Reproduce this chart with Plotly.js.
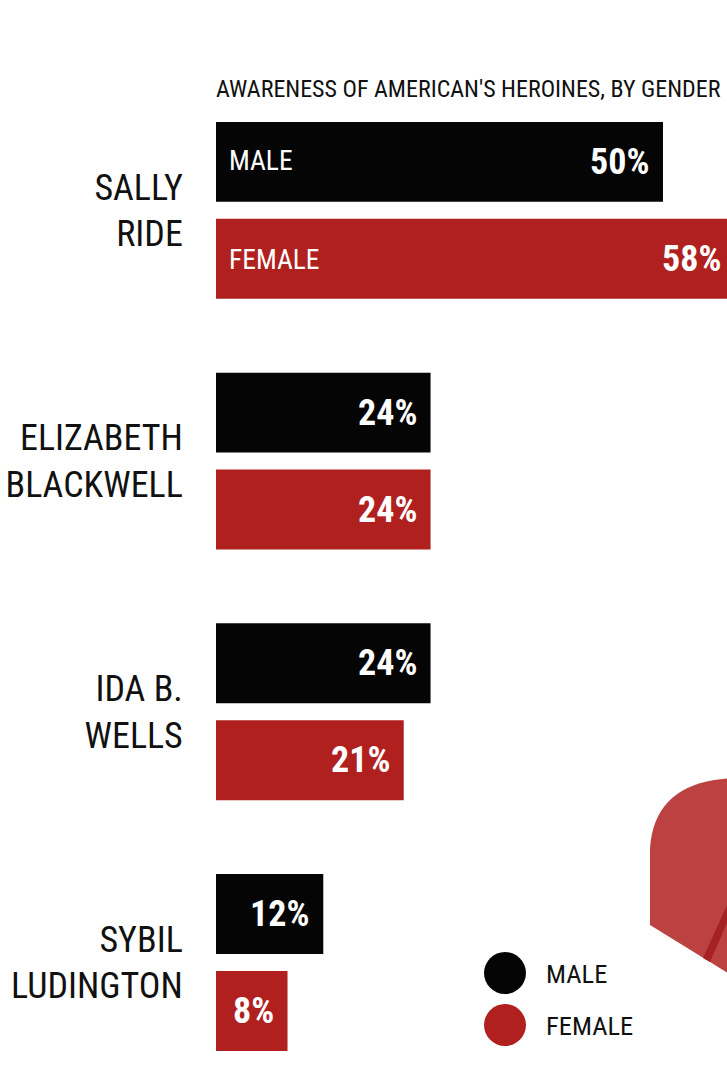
<!DOCTYPE html>
<html>
<head>
<meta charset="utf-8">
<script src="https://cdn.plot.ly/plotly-3.0.1.min.js"></script>
<style>
  html, body { margin: 0; padding: 0; background: #ffffff; overflow: hidden; }
  #chart { width: 760px; height: 1066px; }
</style>
</head>
<body>
<div id="chart"></div>
<script>
// ---- data ----
const categories = ['SALLY<br>RIDE', 'ELIZABETH<br>BLACKWELL', 'IDA B.<br>WELLS', 'SYBIL<br>LUDINGTON'];
const maleValues = [50, 24, 24, 12];
const femaleValues = [58, 24, 21, 8];
const seriesNames = ['MALE', 'FEMALE'];
const titleText = "AWARENESS OF AMERICAN'S HEROINES, BY GENDER";

// ---- styling ----
const FONT = '"Roboto Condensed", "Liberation Sans Narrow", "DejaVu Sans Condensed", sans-serif';
const BLACK = '#050505';
const RED = '#b0201f';
const W = 760, H = 1066;
const M = { l: 216, r: 0, t: 85, b: 0 };
const plotW = W - M.l - M.r, plotH = H - M.t - M.b;
const px = x => (x - M.l) / plotW;          // pixel -> paper x
const py = y => 1 - (y - M.t) / plotH;      // pixel -> paper y
const BAR_OFFSET = 48.5;                    // half of a bar slot, in pixels

const traces = [
  { type: 'bar', orientation: 'h', name: seriesNames[0], y: categories, x: maleValues,
    marker: { color: BLACK }, hoverinfo: 'skip' },
  { type: 'bar', orientation: 'h', name: seriesNames[1], y: categories, x: femaleValues,
    marker: { color: RED }, hoverinfo: 'skip' }
];

const valueFont = { family: FONT, size: 36, color: '#ffffff', weight: 'bold' };
const valueLabels = [];
[maleValues, femaleValues].forEach((vals, si) => {
  vals.forEach((v, i) => {
    valueLabels.push({
      text: v + '%', x: v, xref: 'x', y: categories[i], yref: 'y',
      xanchor: 'right', yanchor: 'middle', xshift: -12,
      yshift: si === 0 ? BAR_OFFSET : -BAR_OFFSET,
      showarrow: false, font: valueFont
    });
  });
});

const legendItems = [
  { name: seriesNames[0], color: BLACK, cy: 973 },
  { name: seriesNames[1], color: RED, cy: 1025 }
];

const shapes = [
  // decorative red illustration fragment at lower right
  {
    type: 'path', xref: 'paper', yref: 'paper', layer: 'below',
    path: `M ${px(760)} ${py(775)} L ${px(714)} ${py(780)} Q ${px(654)} ${py(790)} ${px(650)} ${py(848)} L ${px(650)} ${py(925)} L ${px(760)} ${py(993)} Z`,
    fillcolor: '#bc4242', line: { width: 0 }
  },
  {
    type: 'path', xref: 'paper', yref: 'paper', layer: 'below',
    path: `M ${px(703)} ${py(958)} L ${px(727)} ${py(905)} L ${px(734)} ${py(907)} L ${px(710)} ${py(962)} Z`,
    fillcolor: '#a62222', line: { width: 0 }
  }
].concat(legendItems.map(it => ({
  type: 'circle', xref: 'paper', yref: 'paper',
  x0: px(484), x1: px(526), y0: py(it.cy + 21), y1: py(it.cy - 21),
  fillcolor: it.color, line: { width: 0 }
})));

const annotations = [
  { text: seriesNames[0], x: 0, xref: 'x', y: categories[0], yref: 'y', xanchor: 'left', xshift: 11, yshift: BAR_OFFSET + 1,
    showarrow: false, font: { family: FONT, size: 27.5, color: '#ffffff' } },
  { text: seriesNames[1], x: 0, xref: 'x', y: categories[0], yref: 'y', xanchor: 'left', xshift: 11, yshift: -BAR_OFFSET - 1,
    showarrow: false, font: { family: FONT, size: 27.5, color: '#ffffff' } }
].concat(valueLabels).concat(legendItems.map(it => ({
  text: it.name, xref: 'paper', yref: 'paper', x: px(544), y: py(it.cy), xanchor: 'left', yanchor: 'middle',
  showarrow: false, font: { family: FONT, size: 26.5, color: '#111111' }
})));

const layout = {
  width: W, height: H,
  margin: M,
  paper_bgcolor: '#ffffff', plot_bgcolor: 'rgba(0,0,0,0)',
  showlegend: false,
  barmode: 'group', bargap: 0.227, bargroupgap: 0.175,
  title: {
    text: titleText, xref: 'container', yref: 'container',
    x: 216 / W, xanchor: 'left', y: 1 - 89 / H, yanchor: 'middle',
    font: { family: FONT, size: 24, color: '#111111' }
  },
  xaxis: {
    range: [0, plotW / 8.94], showgrid: false, zeroline: false, showline: false,
    showticklabels: false, ticks: ''
  },
  yaxis: {
    type: 'category', range: [3.413, -0.5], showgrid: false, zeroline: false, showline: false,
    ticks: 'outside', ticklen: 25, tickcolor: 'rgba(0,0,0,0)',
    tickfont: { family: FONT, size: 36, color: '#111111' }
  },
  shapes: shapes,
  annotations: annotations
};

Plotly.newPlot('chart', traces, layout, { staticPlot: true, displayModeBar: false });
</script>
</body>
</html>
